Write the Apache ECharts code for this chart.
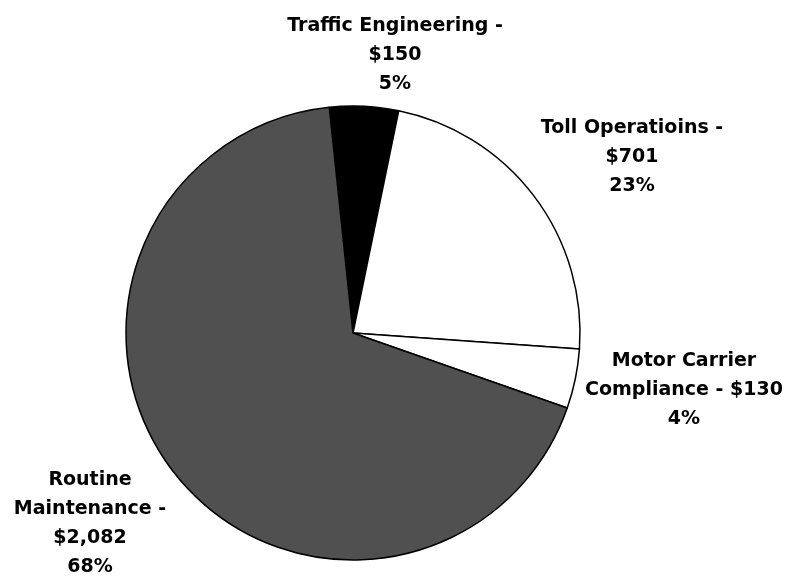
<!DOCTYPE html>
<html>
<head>
<meta charset="utf-8">
<script src="https://cdn.jsdelivr.net/npm/echarts@6/dist/echarts.min.js"></script>
<style>
  html, body { margin: 0; padding: 0; background: #fff; }
  #main { width: 788px; height: 577px; }
</style>
</head>
<body>
<div id="main"></div>
<script>
// slice names (newlines as in the picture) and values ($ thousands)
let names = ["Traffic Engineering", "Toll Operatioins", "Motor Carrier\nCompliance", "Routine\nMaintenance"]
let values = [150, 701, 130, 2082]
let colors = ["#000000", "#ffffff", "#ffffff", "#505050"]
// what sits between the name and the amount
let joins = [" -\n", " -\n", " - ", " -\n"]

// label block centres
let labelPos = [[395, 55], [632, 157], [684, 390], [90, 524]]

let myChart = echarts.init(document.getElementById("main"))

myChart.setOption({
    animation: false,
    series: [{
        type: "pie",
        center: [353, 333],
        radius: 227,
        startAngle: 96,
        clockwise: true,
        percentPrecision: 0,
        data: names.map((n, i) => ({
            name: n,
            value: values[i],
            itemStyle: { color: colors[i] }
        })),
        itemStyle: {
            borderColor: "#000",
            borderWidth: 1.5
        },
        label: {
            show: true,
            position: "outside",
            fontFamily: "DejaVu Sans",
            fontWeight: "bold",
            fontSize: 19,
            lineHeight: 29,
            color: "#000",
            align: "center",
            overflow: "none",
            width: 300,
            formatter: (p) => p.name + joins[p.dataIndex] + "$" + p.value.toLocaleString("en-US") + "\n" + p.percent + "%"
        },
        labelLine: { show: false },
        labelLayout: (p) => ({
            x: labelPos[p.dataIndex][0],
            y: labelPos[p.dataIndex][1],
            align: "center",
            verticalAlign: "middle"
        }),
        emphasis: { disabled: true }
    }]
})
</script>
</body>
</html>
